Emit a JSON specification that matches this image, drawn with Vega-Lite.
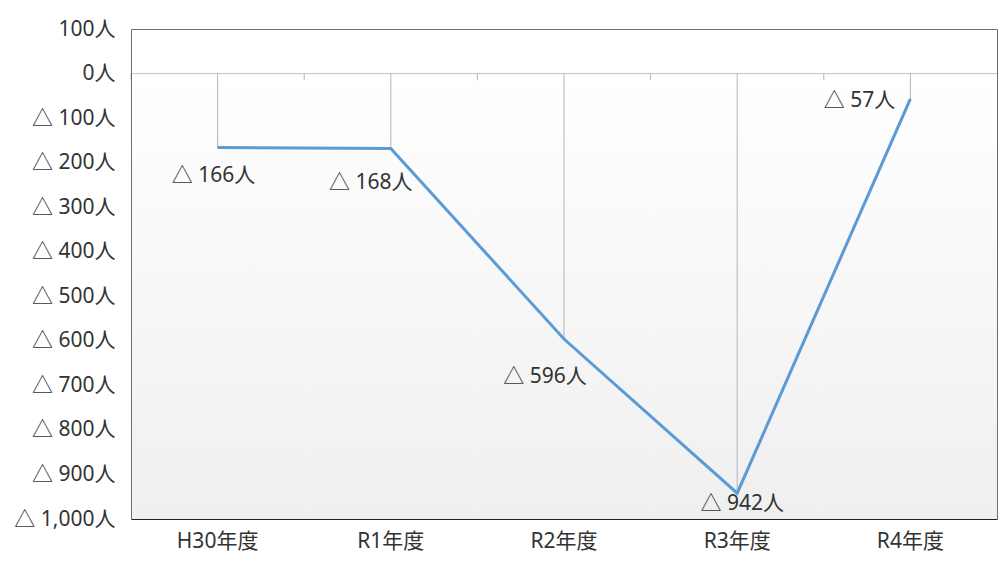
{
  "$schema": "https://vega.github.io/schema/vega-lite/v6.json",
  "width": 866,
  "height": 490,
  "autosize": {"type": "none"},
  "padding": {"left": 131, "top": 29, "right": 2, "bottom": 57},
  "background": "white",
  "config": {
    "font": "Noto Sans, Noto Sans CJK JP",
    "view": {"stroke": null}
  },
  "resolve": {"axis": {"x": "independent", "y": "independent"}},
  "data": {
    "values": [
      {"year": "H30年度", "value": -166, "label": "△ 166人"},
      {"year": "R1年度", "value": -168, "label": "△ 168人"},
      {"year": "R2年度", "value": -596, "label": "△ 596人"},
      {"year": "R3年度", "value": -942, "label": "△ 942人"},
      {"year": "R4年度", "value": -57, "label": "△ 57人"}
    ]
  },
  "layer": [
    {
      "mark": {"type": "rect", "fill": "white"},
      "encoding": {
        "x": {"field": "year", "type": "nominal", "sort": null, "axis": null, "scale": {"paddingInner": 0, "paddingOuter": 0}},
        "y": {"datum": 100, "type": "quantitative", "axis": null, "scale": {"domain": [-1000, 100], "nice": false}},
        "y2": {"datum": 0}
      }
    },
    {
      "mark": {
        "type": "rect",
        "fill": {
          "gradient": "linear",
          "x1": 0, "y1": 0, "x2": 0, "y2": 1,
          "stops": [
            {"offset": 0, "color": "#ffffff"},
            {"offset": 1, "color": "#efefef"}
          ]
        }
      },
      "encoding": {
        "x": {"field": "year", "type": "nominal", "sort": null, "axis": null},
        "y": {"datum": 0, "type": "quantitative", "axis": null},
        "y2": {"datum": -1000}
      }
    },
    {
      "mark": {"type": "rule", "color": "#c8c8c8", "strokeWidth": 1},
      "encoding": {
        "y": {"datum": 0, "type": "quantitative", "axis": null}
      }
    },
    {
      "mark": {"type": "rule", "color": "#b4b4b4", "strokeWidth": 1},
      "encoding": {
        "x": {"field": "year", "type": "nominal", "sort": null, "bandPosition": 0, "axis": null},
        "y": {"datum": 0, "type": "quantitative",
          "axis": {"orient": "right", "zindex": 1, "title": null, "labels": false, "ticks": false, "grid": false, "domain": true, "domainColor": "#6e6e6e"}
        },
        "y2": {"datum": -15}
      }
    },
    {
      "mark": {"type": "rule", "color": "#b4b4b4", "strokeWidth": 1},
      "encoding": {
        "x": {
          "field": "year",
          "type": "nominal",
          "sort": null,
          "axis": {
            "orient": "bottom",
            "zindex": 1,
            "title": null,
            "labelAngle": 0,
            "labelFontSize": 21,
            "labelColor": "#333333",
            "labelPadding": 11,
            "ticks": false,
            "domain": true,
            "domainColor": "#222222",
            "domainWidth": 1.2,
            "grid": false
          }
        },
        "y": {"field": "value", "type": "quantitative",
          "axis": {
            "orient": "left",
            "zindex": 1,
            "title": null,
            "values": [100, 0, -100, -200, -300, -400, -500, -600, -700, -800, -900, -1000],
            "labelExpr": "datum.value > 0 ? format(datum.value, ',') + '人' : (datum.value == 0 ? '0人' : '△ ' + format(-datum.value, ',') + '人')",
            "labelFontSize": 21,
            "labelColor": "#333333",
            "labelPadding": 16,
            "ticks": false,
            "domain": true,
            "domainColor": "#6e6e6e",
            "grid": false
          }
        },
        "y2": {"datum": 0}
      }
    },
    {
      "mark": {"type": "line", "color": "#5b9bd5", "strokeWidth": 3},
      "encoding": {
        "x": {"field": "year", "type": "nominal", "sort": null,
          "axis": {
            "orient": "top",
            "zindex": 1,
            "title": null,
            "labels": false,
            "ticks": false,
            "domain": true,
            "domainColor": "#6e6e6e",
            "grid": false
          }
        },
        "y": {"field": "value", "type": "quantitative", "axis": null}
      }
    },
    {
      "transform": [{"filter": "datum.year == 'H30年度'"}],
      "mark": {"type": "text", "fontSize": 21, "color": "#333333", "dx": -4, "dy": 29},
      "encoding": {"x": {"field": "year", "type": "nominal", "sort": null, "axis": null}, "y": {"field": "value", "type": "quantitative", "axis": null}, "text": {"field": "label"}}
    },
    {
      "transform": [{"filter": "datum.year == 'R1年度'"}],
      "mark": {"type": "text", "fontSize": 21, "color": "#333333", "dx": -20, "dy": 35},
      "encoding": {"x": {"field": "year", "type": "nominal", "sort": null, "axis": null}, "y": {"field": "value", "type": "quantitative", "axis": null}, "text": {"field": "label"}}
    },
    {
      "transform": [{"filter": "datum.year == 'R2年度'"}],
      "mark": {"type": "text", "fontSize": 21, "color": "#333333", "dx": -19, "dy": 38},
      "encoding": {"x": {"field": "year", "type": "nominal", "sort": null, "axis": null}, "y": {"field": "value", "type": "quantitative", "axis": null}, "text": {"field": "label"}}
    },
    {
      "transform": [{"filter": "datum.year == 'R3年度'"}],
      "mark": {"type": "text", "fontSize": 21, "color": "#333333", "dx": 5, "dy": 11},
      "encoding": {"x": {"field": "year", "type": "nominal", "sort": null, "axis": null}, "y": {"field": "value", "type": "quantitative", "axis": null}, "text": {"field": "label"}}
    },
    {
      "transform": [{"filter": "datum.year == 'R4年度'"}],
      "mark": {"type": "text", "fontSize": 21, "color": "#333333", "dx": -51, "dy": 2},
      "encoding": {"x": {"field": "year", "type": "nominal", "sort": null, "axis": null}, "y": {"field": "value", "type": "quantitative", "axis": null}, "text": {"field": "label"}}
    }
  ]
}
